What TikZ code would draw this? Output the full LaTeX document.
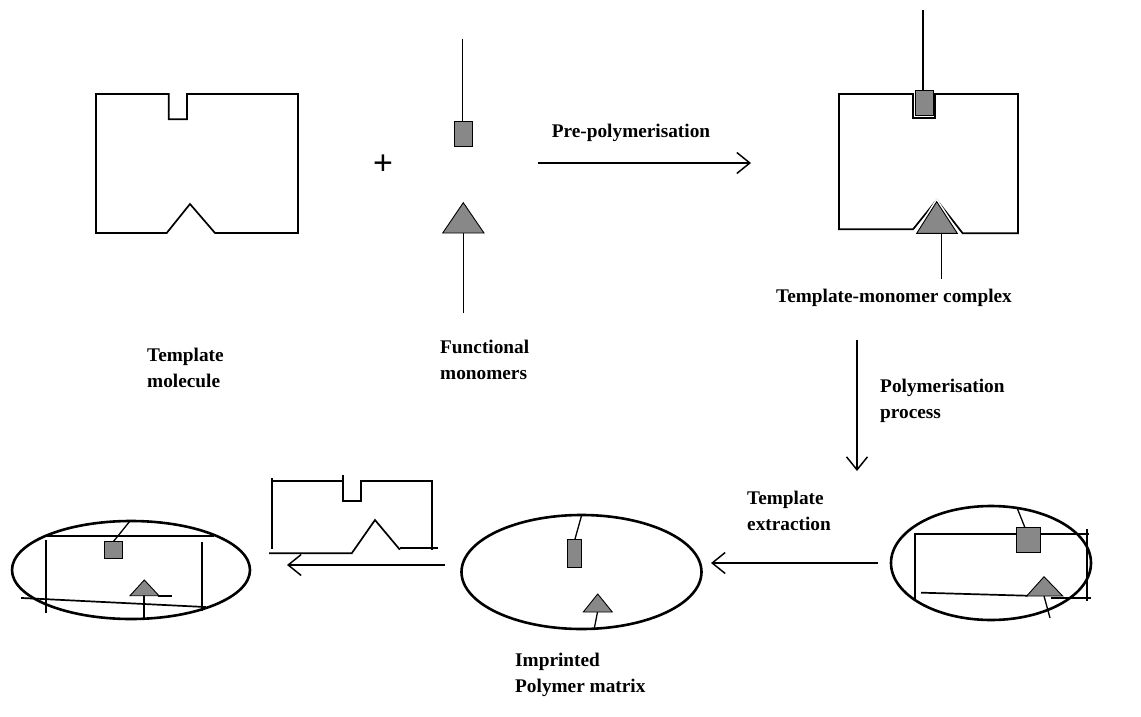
\documentclass[tikz,border=0pt]{standalone}
\usepackage{fontspec}
\setmainfont{Liberation Serif}
\newfontfamily\plusfont{Liberation Sans}
\usetikzlibrary{arrows.meta}
\definecolor{unitgray}{RGB}{136,136,136}
\tikzset{
  outline/.style={line width=1.7pt, line cap=rect},
  thinl/.style={line width=1.3pt},
  cell/.style={line width=2.6pt},
  unit/.style={draw=black, line width=0.9pt, fill=unitgray},
  halo/.style={draw=white, line width=4pt, fill=unitgray},
  flow/.style={line width=1.5pt, -{Straight Barb[length=13pt,width=21pt]}},
  lbl/.style={font=\bfseries\fontsize{19.3}{26}\selectfont, align=left, inner sep=0pt},
}
\begin{document}
\begin{tikzpicture}[x=1pt,y=-1pt]
\useasboundingbox (0,0) rectangle (1141,717);

% ---------- Template molecule ----------
\draw[outline] (96,94) -- (168.7,94) -- (168.7,119.3) -- (187,119.3) -- (187,94) -- (298,94) -- (298,233)
  -- (215,233) -- (190,204) -- (166.7,233) -- (96,233) -- cycle;
\node[lbl, anchor=base west] (tm) at (147,387) {Template\\molecule};

% plus
\node[font=\plusfont\fontsize{34}{36}\selectfont, inner sep=0pt] (plus) at (383,165) {+};

% ---------- Functional monomers ----------
\coordinate (fm1) at (462.3,39);
\coordinate (fm2) at (462.3,121.7);
\draw[thinl] (fm1) -- (fm2);
\draw[unit] (454.7,121.7) rectangle (472.3,146.7);
\coordinate (ft1) at (463.3,233);
\coordinate (ft2) at (463.3,313);
\draw[thinl] (ft1) -- (ft2);
\draw[unit] (442.7,233) -- (463.3,202.7) -- (484,233) -- cycle;
\node[lbl, anchor=base west] (fmlbl) at (440,379) {Functional\\monomers};

% ---------- Pre-polymerisation arrow ----------
\coordinate (a1s) at (538,163);
\coordinate (a1e) at (751,163);
\draw[flow] (a1s) -- (a1e);
\node[lbl, anchor=base] (pp) at (631,137) {Pre-polymerisation};

% ---------- Template-monomer complex ----------
\draw[outline] (839,94) -- (912.7,94) -- (912.7,118.3) -- (935,118.3) -- (935,94) -- (1018,94) -- (1018,233);
\draw[outline] (839,94) -- (839,229.3) -- (913,229.3) -- (936.7,200) -- (962.7,233.3) -- (1018,233.3);
\coordinate (c1) at (923,10);
\coordinate (c2) at (923,90);
\draw[thinl] (c1) -- (c2);
\draw[unit] (915,90) rectangle (933.3,115);
\coordinate (c3) at (941.7,233.3);
\coordinate (c4) at (941.7,279);
\draw[halo] (916.7,233.3) -- (936.7,201.7) -- (957.3,233.3) -- cycle;
\draw[unit] (916.7,233.3) -- (936.7,201.7) -- (957.3,233.3) -- cycle;
\draw[thinl] (c3) -- (c4);
\node[lbl, anchor=base] (tmc) at (894,302) {Template-monomer complex};

% ---------- Polymerisation arrow ----------
\coordinate (a2s) at (857,340);
\coordinate (a2e) at (857,471);
\draw[flow] (a2s) -- (a2e);
\node[lbl, anchor=base west] (pol) at (880,418) {Polymerisation\\process};

% ---------- Right ellipse (polymer with template) ----------
\draw[cell] (991,563) ellipse [x radius=100, y radius=57];
\draw[thinl] (1016.7,507) -- (1025,527.7);
\draw[outline] (915,534) -- (1016,534);
\draw[outline] (1040.7,534) -- (1088,534);
\draw[unit] (1016,527.7) rectangle (1040.7,552.7);
\draw[outline] (915,534) -- (915,599);
\draw[outline] (1087,530) -- (1087,600);
\draw[outline] (922,592.7) -- (1026.7,595.7);
\draw[outline] (1051.7,597.7) -- (1090,597.7);
\draw[thinl] (1044,596) -- (1050,618);
\draw[unit] (1026.7,596) -- (1044,576.7) -- (1062.7,596) -- cycle;

% ---------- Template extraction arrow ----------
\coordinate (a3s) at (878,563);
\coordinate (a3e) at (711,563);
\draw[flow] (a3s) -- (a3e);
\node[lbl, anchor=base west] (te) at (747,530) {Template\\extraction};

% ---------- Middle ellipse (imprinted polymer) ----------
\draw[cell] (581.5,572) ellipse [x radius=120, y radius=57];
\draw[thinl] (581.7,515) -- (575,539);
\draw[unit] (567.3,539) rectangle (581.7,567.7);
\draw[thinl] (597.5,612) -- (594,630);
\draw[unit] (583.3,612) -- (597.7,594) -- (612.3,612) -- cycle;
\node[lbl, anchor=base west] (ipm) at (515,692) {Imprinted\\Polymer matrix};

% ---------- Removed template ----------
\draw[outline] (272.3,479.3) -- (272.3,547.7);
\draw[outline] (272.3,481) -- (342.7,481);
\draw[outline] (342.7,476) -- (342.7,501) -- (361,501) -- (361,481) -- (431.7,481) -- (431.7,549);
\draw[outline] (270,553.3) -- (351.7,553.3) -- (375,520) -- (399.3,549);
\draw[outline] (401,547.7) -- (436.7,547.7);

% ---------- Rebinding arrow ----------
\coordinate (a4s) at (445,565);
\coordinate (a4e) at (287,565);
\draw[flow] (a4s) -- (a4e);

% ---------- Left ellipse ----------
\draw[cell] (131,570) ellipse [x radius=119, y radius=49];
\draw[outline] (45.7,535.7) -- (213,535.7);
\draw[thinl] (130,521) -- (113.3,541.7);
\draw[unit] (104.3,541.7) rectangle (122.3,558.3);
\draw[outline] (45.7,541) -- (45.7,612);
\draw[outline] (201.7,543) -- (201.7,610);
\draw[outline] (22,598) -- (205,607);
\draw[outline] (159,596) -- (171,596);
\draw[outline] (144.3,596) -- (144.3,617);
\draw[unit] (130,595.7) -- (144.3,580) -- (159,595.7) -- cycle;
\end{tikzpicture}
\end{document}
